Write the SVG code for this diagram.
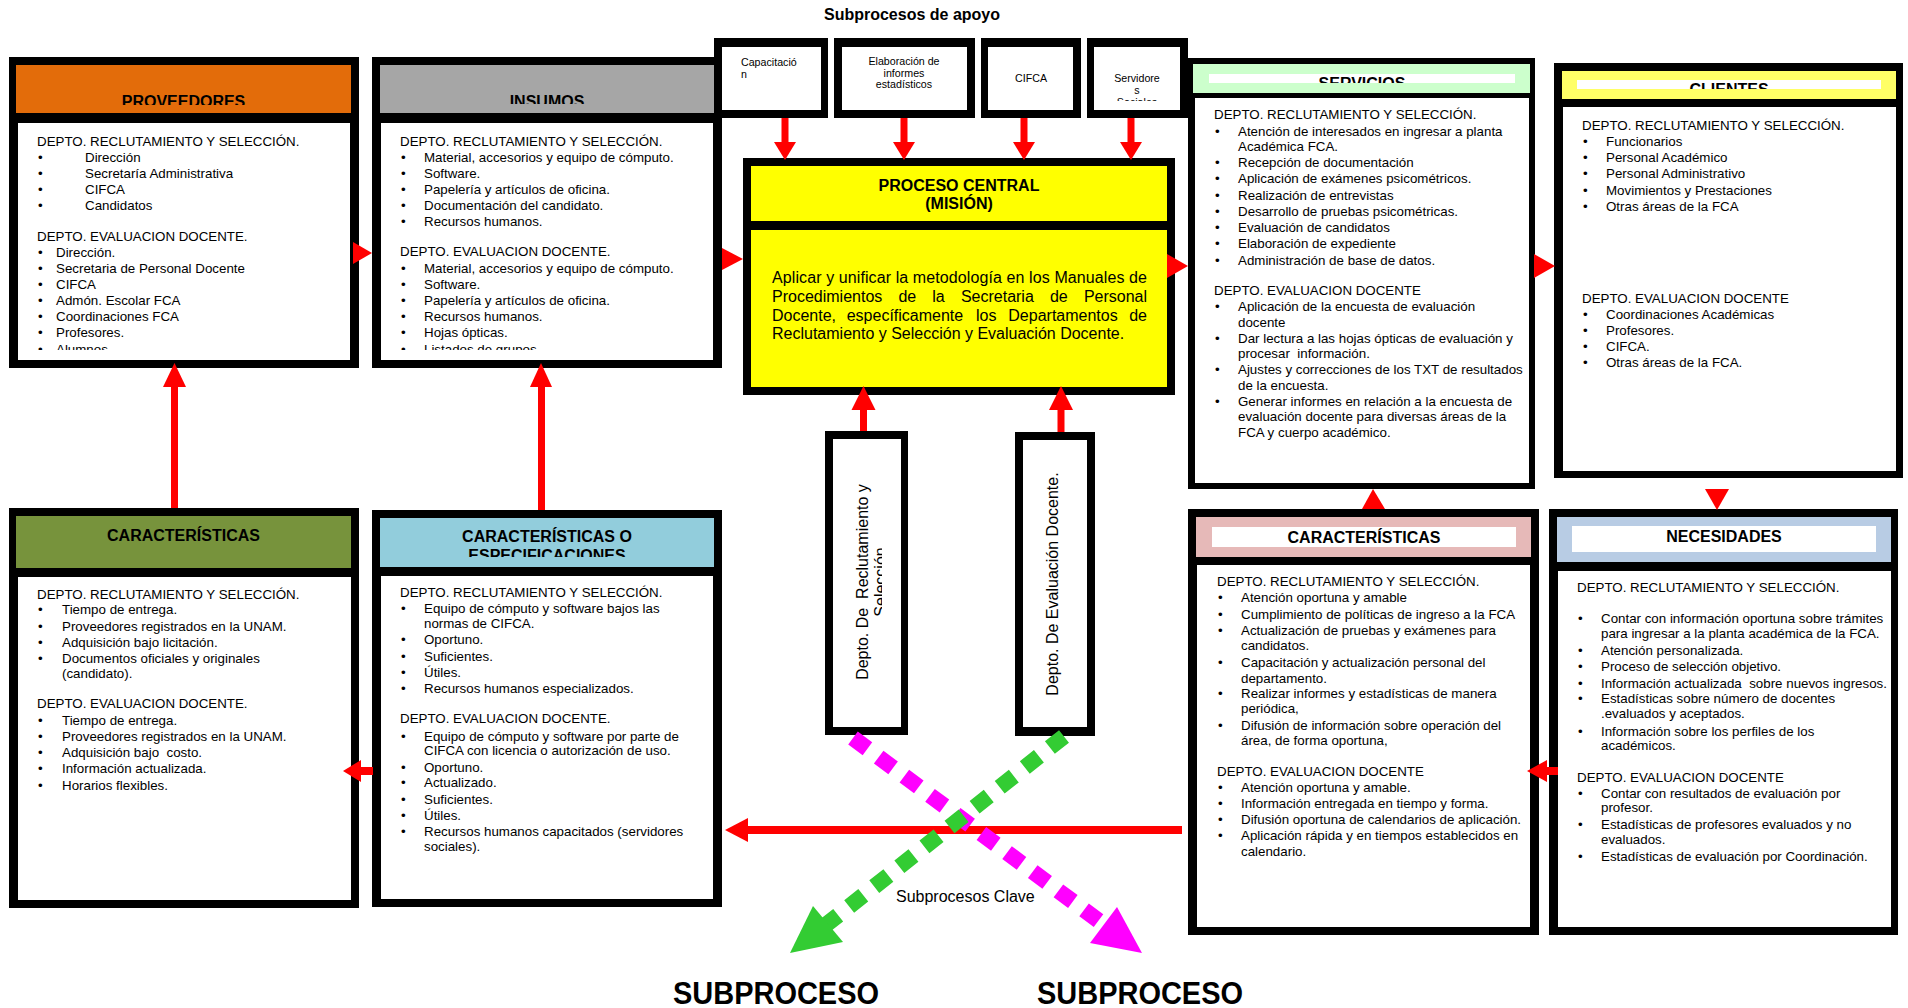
<svg xmlns="http://www.w3.org/2000/svg" width="1908" height="1008" viewBox="0 0 1908 1008">
<style>
text{font-family:"Liberation Sans",Arial,sans-serif;fill:#000}
.t{font-size:13.33px}
.h{font-size:16px;font-weight:bold;text-anchor:middle}
.s{font-size:10.67px}
.m{text-anchor:middle}
.k{fill:#000}
.w{fill:#fff}
.r{fill:#ff0000}
</style>
<defs>
<clipPath id="cProvH"><rect x="16" y="65" width="335" height="40"/></clipPath>
<clipPath id="cProvB"><rect x="18" y="123" width="332" height="227"/></clipPath>
<clipPath id="cInsH"><rect x="380" y="65" width="334" height="39"/></clipPath>
<clipPath id="cInsB"><rect x="381" y="123" width="332" height="227"/></clipPath>
<clipPath id="cServH"><rect x="1209" y="74" width="306" height="9"/></clipPath>
<clipPath id="cCliH"><rect x="1577" y="80" width="304" height="9"/></clipPath>
<clipPath id="cEspH"><rect x="380" y="518" width="334" height="39"/></clipPath>
<clipPath id="cSrv"><rect x="1094" y="47" width="86" height="54"/></clipPath>
<clipPath id="cRec"><rect x="833" y="439" width="49" height="288"/></clipPath>
</defs>
<rect width="1908" height="1008" fill="#fff"/>

<text class="h" x="912" y="20">Subprocesos de apoyo</text>

<g id="proveedores">
<rect class="k" x="9" y="57" width="350" height="311"/>
<rect x="16" y="65" width="335" height="48" fill="#e36c0a"/>
<rect class="w" x="18" y="123" width="332" height="237"/>
<g clip-path="url(#cProvH)"><text class="h" x="183.5" y="107">PROVEEDORES</text></g>
<g clip-path="url(#cProvB)">
<text class="t"><tspan x="37" y="146">DEPTO. RECLUTAMIENTO Y SELECCIÓN.</tspan><tspan x="85" y="162">Dirección</tspan><tspan x="85" y="178">Secretaría Administrativa</tspan><tspan x="85" y="194">CIFCA</tspan><tspan x="85" y="210">Candidatos</tspan><tspan x="37" y="241">DEPTO. EVALUACION DOCENTE.</tspan><tspan x="56" y="257">Dirección.</tspan><tspan x="56" y="273">Secretaria de Personal Docente</tspan><tspan x="56" y="289">CIFCA</tspan><tspan x="56" y="305">Admón. Escolar FCA</tspan><tspan x="56" y="321">Coordinaciones FCA</tspan><tspan x="56" y="337">Profesores.</tspan><tspan x="56" y="354">Alumnos</tspan></text>
<text class="t"><tspan x="38" y="162">•</tspan><tspan x="38" y="178">•</tspan><tspan x="38" y="194">•</tspan><tspan x="38" y="210">•</tspan><tspan x="38" y="257">•</tspan><tspan x="38" y="273">•</tspan><tspan x="38" y="289">•</tspan><tspan x="38" y="305">•</tspan><tspan x="38" y="321">•</tspan><tspan x="38" y="337">•</tspan><tspan x="38" y="354">•</tspan></text>
</g>
</g>

<g id="insumos">
<rect class="k" x="372" y="57" width="350" height="311"/>
<rect x="380" y="65" width="334" height="48" fill="#a6a6a6"/>
<rect class="w" x="381" y="123" width="332" height="237"/>
<g clip-path="url(#cInsH)"><text class="h" x="547" y="107">INSUMOS</text></g>
<g clip-path="url(#cInsB)">
<text class="t"><tspan x="400" y="146">DEPTO. RECLUTAMIENTO Y SELECCIÓN.</tspan><tspan x="424" y="162">Material, accesorios y equipo de cómputo.</tspan><tspan x="424" y="178">Software.</tspan><tspan x="424" y="194">Papelería y artículos de oficina.</tspan><tspan x="424" y="210">Documentación del candidato.</tspan><tspan x="424" y="226">Recursos humanos.</tspan><tspan x="400" y="256">DEPTO. EVALUACION DOCENTE.</tspan><tspan x="424" y="273">Material, accesorios y equipo de cómputo.</tspan><tspan x="424" y="289">Software.</tspan><tspan x="424" y="305">Papelería y artículos de oficina.</tspan><tspan x="424" y="321">Recursos humanos.</tspan><tspan x="424" y="337">Hojas ópticas.</tspan><tspan x="424" y="354">Listados de grupos.</tspan></text>
<text class="t"><tspan x="401" y="162">•</tspan><tspan x="401" y="178">•</tspan><tspan x="401" y="194">•</tspan><tspan x="401" y="210">•</tspan><tspan x="401" y="226">•</tspan><tspan x="401" y="273">•</tspan><tspan x="401" y="289">•</tspan><tspan x="401" y="305">•</tspan><tspan x="401" y="321">•</tspan><tspan x="401" y="337">•</tspan><tspan x="401" y="354">•</tspan></text>
</g>
</g>

<g id="capacitacion">
<rect class="k" x="714" y="38" width="114" height="80"/>
<rect class="w" x="722" y="47" width="99" height="63"/>
<text class="s"><tspan x="741" y="66">Capacitació</tspan><tspan x="741" y="77.5">n</tspan></text>
</g>
<g id="elaboracion">
<rect class="k" x="834" y="38" width="141" height="80"/>
<rect class="w" x="842" y="47" width="125" height="63"/>
<text class="s m"><tspan x="904" y="65">Elaboración de</tspan><tspan x="904" y="76.5">informes</tspan><tspan x="904" y="88">estadísticos</tspan></text>
</g>
<g id="cifca">
<rect class="k" x="981" y="38" width="100" height="80"/>
<rect class="w" x="988" y="47" width="85" height="63"/>
<text class="s m" x="1031" y="82">CIFCA</text>
</g>
<g id="servidores">
<rect class="k" x="1087" y="38" width="101" height="80"/>
<rect class="w" x="1094" y="47" width="86" height="63"/>
<g clip-path="url(#cSrv)"><text class="s m"><tspan x="1137" y="82">Servidore</tspan><tspan x="1137" y="93.5">s</tspan><tspan x="1137" y="105.5">Sociales</tspan></text></g>
</g>

<g id="proceso-central">
<rect class="k" x="743" y="158" width="432" height="237"/>
<rect x="751" y="166" width="416" height="55" fill="#ffff00"/>
<rect x="751" y="230" width="416" height="157" fill="#ffff00"/>
<text class="h"><tspan x="959" y="191">PROCESO CENTRAL</tspan><tspan x="959" y="209">(MISIÓN)</tspan></text>
<text style="font-size:16px"><tspan x="772" y="283" textLength="375" lengthAdjust="spacing">Aplicar y unificar la metodología en los Manuales de</tspan><tspan x="772" y="302">Procedimientos</tspan><tspan x="898.4" y="302">de</tspan><tspan x="932.3" y="302">la</tspan><tspan x="960.9" y="302">Secretaria</tspan><tspan x="1049.9" y="302">de</tspan><tspan x="1083.9" y="302">Personal</tspan><tspan x="772" y="320.5">Docente,</tspan><tspan x="846.7" y="320.5">específicamente</tspan><tspan x="976" y="320.5">los</tspan><tspan x="1008.3" y="320.5">Departamentos</tspan><tspan x="1129.2" y="320.5">de</tspan><tspan x="772" y="339">Reclutamiento y Selección y Evaluación Docente.</tspan></text>
</g>

<g id="servicios">
<rect class="k" x="1188" y="58" width="347" height="431"/>
<rect x="1193" y="64" width="337" height="29" fill="#ccffcc"/>
<rect class="w" x="1209" y="74" width="306" height="9"/>
<rect class="w" x="1195" y="98" width="334" height="385"/>
<g clip-path="url(#cServH)"><text class="h" x="1362" y="88.5">SERVICIOS</text></g>
<text class="t" xml:space="preserve"><tspan x="1214" y="119">DEPTO. RECLUTAMIENTO Y SELECCIÓN.</tspan><tspan x="1238" y="136">Atención de interesados en ingresar a planta</tspan><tspan x="1238" y="151">Académica FCA.</tspan><tspan x="1238" y="167">Recepción de documentación</tspan><tspan x="1238" y="183">Aplicación de exámenes psicométricos.</tspan><tspan x="1238" y="200">Realización de entrevistas</tspan><tspan x="1238" y="216">Desarrollo de pruebas psicométricas.</tspan><tspan x="1238" y="232">Evaluación de candidatos</tspan><tspan x="1238" y="248">Elaboración de expediente</tspan><tspan x="1238" y="265">Administración de base de datos.</tspan><tspan x="1214" y="295">DEPTO. EVALUACION DOCENTE</tspan><tspan x="1238" y="311">Aplicación de la encuesta de evaluación</tspan><tspan x="1238" y="327">docente</tspan><tspan x="1238" y="343">Dar lectura a las hojas ópticas de evaluación y</tspan><tspan x="1238" y="358">procesar  información.</tspan><tspan x="1238" y="374">Ajustes y correcciones de los TXT de resultados</tspan><tspan x="1238" y="390">de la encuesta.</tspan><tspan x="1238" y="406">Generar informes en relación a la encuesta de</tspan><tspan x="1238" y="421">evaluación docente para diversas áreas de la</tspan><tspan x="1238" y="437">FCA y cuerpo académico.</tspan></text>
<text class="t"><tspan x="1215" y="136">•</tspan><tspan x="1215" y="167">•</tspan><tspan x="1215" y="183">•</tspan><tspan x="1215" y="200">•</tspan><tspan x="1215" y="216">•</tspan><tspan x="1215" y="232">•</tspan><tspan x="1215" y="248">•</tspan><tspan x="1215" y="265">•</tspan><tspan x="1215" y="311">•</tspan><tspan x="1215" y="343">•</tspan><tspan x="1215" y="374">•</tspan><tspan x="1215" y="406">•</tspan></text>
</g>

<g id="clientes">
<rect class="k" x="1554" y="63" width="349" height="415"/>
<rect x="1562" y="71" width="334" height="28" fill="#ffff66"/>
<rect class="w" x="1577" y="80" width="304" height="9"/>
<rect class="w" x="1563" y="107" width="333" height="364"/>
<g clip-path="url(#cCliH)"><text class="h" x="1729" y="94.5">CLIENTES</text></g>
<text class="t"><tspan x="1582" y="130">DEPTO. RECLUTAMIENTO Y SELECCIÓN.</tspan><tspan x="1606" y="146">Funcionarios</tspan><tspan x="1606" y="162">Personal Académico</tspan><tspan x="1606" y="178">Personal Administrativo</tspan><tspan x="1606" y="195">Movimientos y Prestaciones</tspan><tspan x="1606" y="211">Otras áreas de la FCA</tspan><tspan x="1582" y="303">DEPTO. EVALUACION DOCENTE</tspan><tspan x="1606" y="319">Coordinaciones Académicas</tspan><tspan x="1606" y="335">Profesores.</tspan><tspan x="1606" y="351">CIFCA.</tspan><tspan x="1606" y="367">Otras áreas de la FCA.</tspan></text>
<text class="t"><tspan x="1583" y="146">•</tspan><tspan x="1583" y="162">•</tspan><tspan x="1583" y="178">•</tspan><tspan x="1583" y="195">•</tspan><tspan x="1583" y="211">•</tspan><tspan x="1583" y="319">•</tspan><tspan x="1583" y="335">•</tspan><tspan x="1583" y="351">•</tspan><tspan x="1583" y="367">•</tspan></text>
</g>

<g id="caracteristicas-proveedores">
<rect class="k" x="9" y="508" width="350" height="400"/>
<rect x="16" y="516" width="335" height="52" fill="#77933c"/>
<rect class="w" x="18" y="577" width="333" height="323"/>
<text class="h" x="183.5" y="541">CARACTERÍSTICAS</text>
<text class="t" xml:space="preserve"><tspan x="37" y="599">DEPTO. RECLUTAMIENTO Y SELECCIÓN.</tspan><tspan x="62" y="614">Tiempo de entrega.</tspan><tspan x="62" y="631">Proveedores registrados en la UNAM.</tspan><tspan x="62" y="647">Adquisición bajo licitación.</tspan><tspan x="62" y="663">Documentos oficiales y originales</tspan><tspan x="62" y="678">(candidato).</tspan><tspan x="37" y="708">DEPTO. EVALUACION DOCENTE.</tspan><tspan x="62" y="725">Tiempo de entrega.</tspan><tspan x="62" y="741">Proveedores registrados en la UNAM.</tspan><tspan x="62" y="757">Adquisición bajo  costo.</tspan><tspan x="62" y="773">Información actualizada.</tspan><tspan x="62" y="790">Horarios flexibles.</tspan></text>
<text class="t"><tspan x="38" y="614">•</tspan><tspan x="38" y="631">•</tspan><tspan x="38" y="647">•</tspan><tspan x="38" y="663">•</tspan><tspan x="38" y="725">•</tspan><tspan x="38" y="741">•</tspan><tspan x="38" y="757">•</tspan><tspan x="38" y="773">•</tspan><tspan x="38" y="790">•</tspan></text>
</g>

<g id="especificaciones">
<rect class="k" x="372" y="510" width="350" height="397"/>
<rect x="380" y="518" width="334" height="49" fill="#92cddc"/>
<rect class="w" x="381" y="576" width="332" height="323"/>
<g clip-path="url(#cEspH)"><text class="h"><tspan x="547" y="542">CARACTERÍSTICAS O</tspan><tspan x="547" y="561">ESPECIFICACIONES</tspan></text></g>
<text class="t"><tspan x="400" y="597">DEPTO. RECLUTAMIENTO Y SELECCIÓN.</tspan><tspan x="424" y="613">Equipo de cómputo y software bajos las</tspan><tspan x="424" y="628">normas de CIFCA.</tspan><tspan x="424" y="644">Oportuno.</tspan><tspan x="424" y="661">Suficientes.</tspan><tspan x="424" y="677">Útiles.</tspan><tspan x="424" y="693">Recursos humanos especializados.</tspan><tspan x="400" y="723">DEPTO. EVALUACION DOCENTE.</tspan><tspan x="424" y="741">Equipo de cómputo y software por parte de</tspan><tspan x="424" y="755">CIFCA con licencia o autorización de uso.</tspan><tspan x="424" y="772">Oportuno.</tspan><tspan x="424" y="787">Actualizado.</tspan><tspan x="424" y="804">Suficientes.</tspan><tspan x="424" y="820">Útiles.</tspan><tspan x="424" y="836">Recursos humanos capacitados (servidores</tspan><tspan x="424" y="851">sociales).</tspan></text>
<text class="t"><tspan x="401" y="613">•</tspan><tspan x="401" y="644">•</tspan><tspan x="401" y="661">•</tspan><tspan x="401" y="677">•</tspan><tspan x="401" y="693">•</tspan><tspan x="401" y="741">•</tspan><tspan x="401" y="772">•</tspan><tspan x="401" y="787">•</tspan><tspan x="401" y="804">•</tspan><tspan x="401" y="820">•</tspan><tspan x="401" y="836">•</tspan></text>
</g>

<g id="caracteristicas-servicios">
<rect class="k" x="1188" y="509" width="351" height="426"/>
<rect x="1196" y="517" width="335" height="40" fill="#e6b9b8"/>
<rect class="w" x="1212" y="527" width="304" height="20"/>
<rect class="w" x="1197" y="565" width="333" height="362"/>
<text class="h" x="1364" y="543">CARACTERÍSTICAS</text>
<text class="t"><tspan x="1217" y="586">DEPTO. RECLUTAMIENTO Y SELECCIÓN.</tspan><tspan x="1241" y="602">Atención oportuna y amable</tspan><tspan x="1241" y="619">Cumplimiento de políticas de ingreso a la FCA</tspan><tspan x="1241" y="635">Actualización de pruebas y exámenes para</tspan><tspan x="1241" y="650">candidatos.</tspan><tspan x="1241" y="667">Capacitación y actualización personal del</tspan><tspan x="1241" y="683">departamento.</tspan><tspan x="1241" y="698">Realizar informes y estadísticas de manera</tspan><tspan x="1241" y="713">periódica,</tspan><tspan x="1241" y="730">Difusión de información sobre operación del</tspan><tspan x="1241" y="745">área, de forma oportuna,</tspan><tspan x="1217" y="776">DEPTO. EVALUACION DOCENTE</tspan><tspan x="1241" y="792">Atención oportuna y amable.</tspan><tspan x="1241" y="808">Información entregada en tiempo y forma.</tspan><tspan x="1241" y="824">Difusión oportuna de calendarios de aplicación.</tspan><tspan x="1241" y="840">Aplicación rápida y en tiempos establecidos en</tspan><tspan x="1241" y="856">calendario.</tspan></text>
<text class="t"><tspan x="1218" y="602">•</tspan><tspan x="1218" y="619">•</tspan><tspan x="1218" y="635">•</tspan><tspan x="1218" y="667">•</tspan><tspan x="1218" y="698">•</tspan><tspan x="1218" y="730">•</tspan><tspan x="1218" y="792">•</tspan><tspan x="1218" y="808">•</tspan><tspan x="1218" y="824">•</tspan><tspan x="1218" y="840">•</tspan></text>
</g>

<g id="necesidades">
<rect class="k" x="1549" y="509" width="349" height="426"/>
<rect x="1557" y="517" width="334" height="45" fill="#b8cce4"/>
<rect class="w" x="1572" y="526" width="304" height="26"/>
<rect class="w" x="1558" y="571" width="333" height="356"/>
<text class="h" x="1724" y="542">NECESIDADES</text>
<text class="t" xml:space="preserve"><tspan x="1577" y="592">DEPTO. RECLUTAMIENTO Y SELECCIÓN.</tspan><tspan x="1601" y="623">Contar con información oportuna sobre trámites</tspan><tspan x="1601" y="638">para ingresar a la planta académica de la FCA.</tspan><tspan x="1601" y="655">Atención personalizada.</tspan><tspan x="1601" y="671">Proceso de selección objetivo.</tspan><tspan x="1601" y="688">Información actualizada  sobre nuevos ingresos.</tspan><tspan x="1601" y="703">Estadísticas sobre número de docentes</tspan><tspan x="1601" y="718">.evaluados y aceptados.</tspan><tspan x="1601" y="736">Información sobre los perfiles de los</tspan><tspan x="1601" y="750">académicos.</tspan><tspan x="1577" y="782">DEPTO. EVALUACION DOCENTE</tspan><tspan x="1601" y="798">Contar con resultados de evaluación por</tspan><tspan x="1601" y="812">profesor.</tspan><tspan x="1601" y="829">Estadísticas de profesores evaluados y no</tspan><tspan x="1601" y="844">evaluados.</tspan><tspan x="1601" y="861">Estadísticas de evaluación por Coordinación.</tspan></text>
<text class="t"><tspan x="1578" y="623">•</tspan><tspan x="1578" y="655">•</tspan><tspan x="1578" y="671">•</tspan><tspan x="1578" y="688">•</tspan><tspan x="1578" y="703">•</tspan><tspan x="1578" y="736">•</tspan><tspan x="1578" y="798">•</tspan><tspan x="1578" y="829">•</tspan><tspan x="1578" y="861">•</tspan></text>
</g>

<g id="depto-reclutamiento">
<rect class="k" x="825" y="431" width="83" height="304"/>
<rect class="w" x="833" y="439" width="68" height="288"/>
<g clip-path="url(#cRec)"><text style="font-size:16px" class="m" xml:space="preserve" transform="translate(868,582) rotate(-90)"><tspan x="0" y="0">Depto. De  Reclutamiento y</tspan><tspan x="0" y="18.4">Selección</tspan></text></g>
</g>
<g id="depto-evaluacion">
<rect class="k" x="1015" y="432" width="80" height="304"/>
<rect class="w" x="1023" y="440" width="64" height="287"/>
<text style="font-size:16px" class="m" transform="translate(1058,584) rotate(-90)">Depto. De Evaluación Docente.</text>
</g>

<g id="connectors">
<rect class="r" x="781.5" y="118" width="7" height="25"/><polygon class="r" points="774,142 796,142 785,160"/>
<rect class="r" x="900.5" y="118" width="7" height="25"/><polygon class="r" points="893,142 915,142 904,160"/>
<rect class="r" x="1020.5" y="118" width="7" height="25"/><polygon class="r" points="1013,142 1035,142 1024,160"/>
<rect class="r" x="1127.5" y="118" width="7" height="25"/><polygon class="r" points="1120,142 1142,142 1131,160"/>
<rect class="r" x="860" y="408" width="7" height="23"/><polygon class="r" points="851.5,410 875.5,410 863.5,386"/>
<rect class="r" x="1057.5" y="408" width="7" height="24"/><polygon class="r" points="1049,410 1073,410 1061,386"/>
<polygon class="r" points="353,242 372,253 353,264"/>
<polygon class="r" points="722,248 743,259 722,270"/>
<polygon class="r" points="1167,254 1188,266 1167,278"/>
<polygon class="r" points="1534,254 1555,266 1534,278"/>
<polygon class="r" points="1705,489 1729,489 1717,510"/>
<polygon class="r" points="1362,509 1385,509 1373,489"/>
<rect class="r" x="1545" y="767" width="13" height="8"/><polygon class="r" points="1547,760 1547,782 1527,771"/>
<rect class="r" x="359" y="767" width="14" height="8"/><polygon class="r" points="361,760 361,782 343,771"/>
<rect class="r" x="171" y="385" width="7" height="123"/><polygon class="r" points="163,387 186,387 174.5,363"/>
<rect class="r" x="538" y="385" width="7" height="125"/><polygon class="r" points="530,387 552,387 541,363"/>
<line x1="1182" y1="830" x2="746" y2="830" stroke="#ff0000" stroke-width="8"/>
<polygon class="r" points="748,818 748,842 725,830"/>
<line x1="853" y1="738" x2="1099" y2="921" stroke="#ff00ff" stroke-width="16" stroke-dasharray="18 14"/>
<polygon points="1117,907 1142,953 1090,943" fill="#ff00ff"/>
<line x1="1064" y1="736.4" x2="825" y2="925.6" stroke="#33cc33" stroke-width="16" stroke-dasharray="18 14"/>
<polygon points="813,906 790,953 843,942" fill="#33cc33"/>
</g>

<text style="font-size:16px" x="896" y="902">Subprocesos Clave</text>
<text style="font-size:32px;font-weight:bold" x="673" y="1004" textLength="206" lengthAdjust="spacingAndGlyphs">SUBPROCESO</text>
<text style="font-size:32px;font-weight:bold" x="1037" y="1004" textLength="206" lengthAdjust="spacingAndGlyphs">SUBPROCESO</text>
</svg>
